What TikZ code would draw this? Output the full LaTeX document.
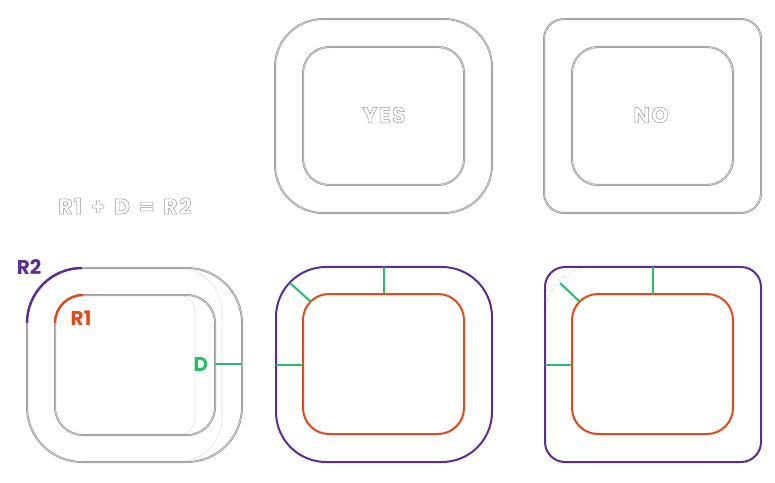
\documentclass[tikz,border=0pt]{standalone}
\usepackage{fontspec}
\setmainfont{Poppins}
\definecolor{rpurple}{RGB}{92,45,145}
\definecolor{rred}{RGB}{226,72,30}
\definecolor{rgreen}{RGB}{40,190,105}
\definecolor{rgray}{RGB}{150,150,150}
\newcommand{\outlinetext}[1]{{\color{rgray}\special{pdf:literal direct 0.5 w 1 Tr}#1\special{pdf:literal direct 0 Tr}}}
\begin{document}
\begin{tikzpicture}[x=1pt,y=1pt,
  grayline/.style={draw=rgray, line width=0.75pt, double=black!10, double distance=0.5pt},
  faintline/.style={draw=black!12, line width=0.6pt},
  outerP/.style={draw=rpurple, line width=2pt},
  innerR/.style={draw=rred, line width=2pt},
  dline/.style={draw=rgreen, line width=2pt},
  otext/.style={font=\bfseries\fontsize{22}{26}\selectfont\addfontfeatures{LetterSpace=6}, inner sep=0pt},
  lbl/.style={font=\bfseries\fontsize{20}{24}\selectfont, inner sep=0pt}]
\useasboundingbox (0,0) rectangle (775,482);
% top: YES
\draw[grayline, rounded corners=48pt] (275,269) rectangle (492,463);
\draw[grayline, rounded corners=26pt] (303,297) rectangle (464,435);
\node[otext] (yes) at (384,367) {\outlinetext{YES}};
% top: NO
\draw[grayline, rounded corners=20pt] (544,269) rectangle (761,463);
\draw[grayline, rounded corners=26pt] (572,297) rectangle (733,435);
\node[otext] (no) at (651,367) {\outlinetext{NO}};
% formula
\node[otext] (formula) at (125,276) {\outlinetext{R1\hspace{3pt} + \hspace{3pt}D\hspace{3pt} = \hspace{3pt}R2}};
% bottom left
\draw[faintline] (178,214) arc[start angle=90,end angle=0,radius=44] -- (222,64) arc[start angle=0,end angle=-90,radius=44];
\draw[faintline] (178,187) arc[start angle=90,end angle=0,radius=17] -- (195,64) arc[start angle=0,end angle=-90,radius=17];
\draw[grayline, rounded corners=55pt] (27,20) rectangle (242,214);
\draw[grayline, rounded corners=28pt] (55,47) rectangle (215,187);
\draw[outerP, line width=2.4pt] (82,214) arc[start angle=90,end angle=180,radius=55];
\draw[innerR, line width=2.4pt] (83,187) arc[start angle=90,end angle=180,radius=28];
\coordinate (blD1) at (215,118);
\coordinate (blD2) at (242,118);
\draw[dline] (blD1) -- (blD2);
\node[lbl, text=rpurple] (r2) at (29,215) {R2};
\node[lbl, text=rred] (r1) at (81,164) {R1};
\node[lbl, text=rgreen] (d) at (201,118) {D};
% bottom middle (yes)
\draw[outerP, rounded corners=50pt] (276,20) rectangle (492,215);
\draw[innerR, rounded corners=26pt] (303,48) rectangle (464,188);
\coordinate (m1a) at (384,215); \coordinate (m1b) at (384,188);
\coordinate (m2a) at (276,117); \coordinate (m2b) at (303,117);
\coordinate (m3a) at (290,199); \coordinate (m3b) at (310.6,180.4);
\draw[dline] (m1a) -- (m1b);
\draw[dline] (m2a) -- (m2b);
\draw[dline] (m3a) -- (m3b);
% bottom right (no)
\draw[black!18, dashed, line width=0.6pt] (593,167) ++(172:48) arc[start angle=172,end angle=98,radius=48];
\draw[outerP, rounded corners=20pt] (545,20) rectangle (761,215);
\draw[innerR, rounded corners=26pt] (572,48) rectangle (733,188);
\coordinate (n1a) at (653,215); \coordinate (n1b) at (653,188);
\coordinate (n2a) at (545,117); \coordinate (n2b) at (572,117);
\coordinate (n3a) at (560,199); \coordinate (n3b) at (579.6,180.4);
\draw[dline] (n1a) -- (n1b);
\draw[dline] (n2a) -- (n2b);
\draw[dline] (n3a) -- (n3b);
\end{tikzpicture}
\end{document}
